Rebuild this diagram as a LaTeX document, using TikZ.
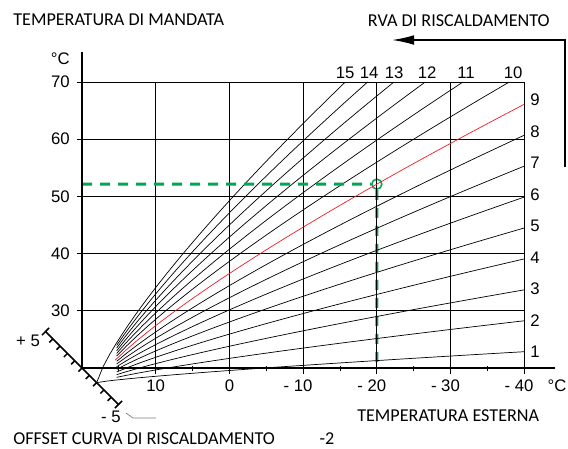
\documentclass[tikz,border=0pt]{standalone}
\usepackage{fontspec}
\setmainfont{Carlito}
\newfontfamily\numfont{Liberation Sans}
\usetikzlibrary{arrows.meta}
\definecolor{curvered}{RGB}{237,28,36}
\definecolor{setgreen}{RGB}{0,166,81}

\begin{document}
\begin{tikzpicture}[xscale=0.18425,yscale=0.143,
  num/.style={font=\numfont\fontsize{11.9}{14}\selectfont,inner sep=0pt},
  caption/.style={font=\fontsize{12.9}{15}\selectfont,inner sep=0pt,anchor=west},
  gridline/.style={line width=0.6pt},
  axis/.style={line width=1.4pt},
  hcurve/.style={line width=0.5pt},
  scaleline/.style={line width=1.1pt},
  setpoint/.style={setgreen,line width=2.1pt,dash pattern=on 0.25cm off 0.2cm}]
  \useasboundingbox (-31.13,6.01) rectangle (45.94,84.34);
  % set point (-20 C outside -> 52 C flow)
  \coordinate (ya) at (-20,52.15);
  \coordinate (xa) at (20,20);
  \node[circle,draw=setgreen,line width=1.1pt,minimum size=0.25cm,inner sep=0pt] (pt) at (20,52.15) {};
  \draw[setpoint] (pt) -- (xa);
  % grid
  \foreach \y in {30,40,...,70} \draw[gridline] (-20.68,\y) -- (40,\y);
  \foreach \x in {-10,0,...,40} \draw[gridline] (\x,18.95) -- (\x,70);
  \foreach \x in {-15,-5,...,35} \draw[gridline] (\x,19.5) -- (\x,20.3);
  % heating curves
  \foreach \k in {1,2,...,8,10,11,...,15} {
    \pgfmathsetmacro\slope{0.21*\k}
    \pgfmathsetmacro\dend{min(58,(52.55/\slope)^1.25)}
    \pgfmathsetmacro\dbeg{ifthenelse(\k==1 || \k==15,0.01,2.7)}
    \draw[hcurve,domain=\dbeg:\dend,samples=40,variable=\dt] plot({\dt-18},{17.45+\slope*\dt^0.8});
  }
  \draw[hcurve,curvered,domain=2.5:58,samples=40,variable=\dt] plot({\dt-18},{17.45+1.89*\dt^0.8});
  \draw[setpoint] (ya) -- (pt);
  % axes
  \draw[axis] (-20,20) -- (-20,75.24);
  \draw[axis] (-20,20) -- (44.18,20);
  % offset scale
  \draw[scaleline] (-24.95,26.38) -- (-15.05,13.62);
  \foreach \o in {-4,...,4} \draw[scaleline] ({-20-0.99*\o},{20+1.276*\o}) -- ++(-0.48,-0.62);
  \foreach \o in {-5,5} \draw[scaleline] ({-20-0.99*\o+0.48},{20+1.276*\o+0.62}) -- ++(-0.96,-1.24);
  % labels
  \foreach \y in {30,40,...,70} \node[num,anchor=east] (fy\y) at (-21.63,\y) {\y};
  \foreach \x/\v in {-10/10,0/0} \node[num] (fx\v) at (\x,16.85) {\v};
  \foreach \x in {10,20,30,40} \node[num] (fxm\x) at (\x,16.85) {\llap{- }\x};
  \node[num] (unity) at (-22.94,74.06) {°C};
  \node[num] (unitx) at (44.45,16.85) {°C};
  \foreach \k in {1,...,9} \node[num] (c\k) at (41.47,{17.3+5.51*\k}) {\k};
  \foreach \k/\x in {10/38.49,11/32.11,12/26.82,13/22.34,14/18.95,15/15.69} \node[num] (c\k) at (\x,71.57) {\k};
  \node[num] (pfive) at (-27.33,24.81) {+ 5};
  \node[num] (mfive) at (-16.07,11.43) {- 5};
  \coordinate (ldbeg) at (-14.03,12.13);
  \coordinate (ldend) at (-9.96,11.26);
  \draw[gray,line width=0.5pt] (ldbeg) -- (-13.08,11.26) -- (ldend);
  \node[caption] (mandata) at (-29.36,80.84) {TEMPERATURA DI MANDATA};
  \node[caption] (esterna) at (17.31,11.64) {TEMPERATURA ESTERNA};
  \node[caption] (offset) at (-29.36,7.59) {OFFSET CURVA DI RISCALDAMENTO};
  \node[caption,anchor=center] (offval) at (13.24,7.59) {-2};
  \node[caption,anchor=east] (curva) at (43.5,80.70) {RVA DI RISCALDAMENTO};
  % arrow
  \coordinate (arrbeg) at (45.54,55.14);
  \coordinate (arrknee) at (45.54,77.34);
  \coordinate (arrtip) at (22.06,77.34);
  \draw[line width=1pt,-{Latex[length=5.5mm,width=2.4mm]}] (arrbeg) -- (arrknee) -- (arrtip);
\end{tikzpicture}
\end{document}
